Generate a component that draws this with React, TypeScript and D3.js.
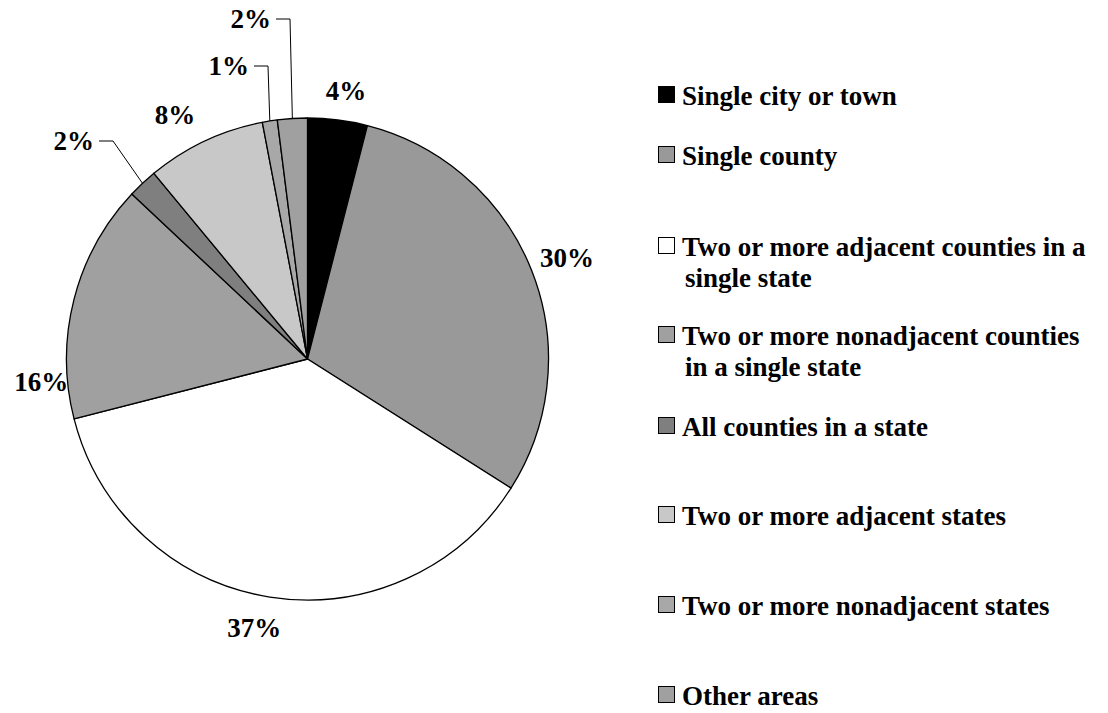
import React from "react";
import * as d3 from "d3";

const categories: string[] = [
  "Single city or town",
  "Single county",
  "Two or more adjacent counties in a single state",
  "Two or more nonadjacent counties in a single state",
  "All counties in a state",
  "Two or more adjacent states",
  "Two or more nonadjacent states",
  "Other areas",
];
const values: number[] = [4, 30, 37, 16, 2, 8, 1, 2];
const legendLines: string[][] = [
  ["Single city or town"],
  ["Single county"],
  ["Two or more adjacent counties in a", "single state"],
  ["Two or more nonadjacent counties", "in a single state"],
  ["All counties in a state"],
  ["Two or more adjacent states"],
  ["Two or more nonadjacent states"],
  ["Other areas"],
];
const fills: string[] = ["#000000", "#999999", "#ffffff", "#a0a0a0", "#7f7f7f", "#c8c8c8", "#a8a8a8", "#a0a0a0"];

// layout (not data)
const W = 1108, H = 713;
const CX = 307.5, CY = 359, R = 241;
const FONT = "'Liberation Serif', 'Times New Roman', serif";
const FS = 27;
const labelMode: string[] = ["radial", "radial", "radial", "radial", "callout", "radial", "callout", "callout"];
const labelNudge: [number, number][] = [[4, 5], [3, 0], [-10, -4], [1, 91], [0, 0], [-15, 5], [0, 0], [0, 0]];
const calloutElbow: [number, number][] = [[0, 0], [0, 0], [0, 0], [0, 0], [-194.5, -218], [0, 0], [-39.5, -293], [-17.5, -340]];
const legendBaselines: number[] = [105, 165, 256, 345, 436, 525, 615, 705];
const LINE_H = 31;

export default function App() {
  const pie = d3.pie<number>().sort(null).value((d) => d);
  const arcs = pie(values);
  const arcGen = d3.arc<d3.PieArcDatum<number>>().innerRadius(0).outerRadius(R);

  const polar = (a: number, r: number): [number, number] => [Math.sin(a) * r, -Math.cos(a) * r];

  return (
    <svg width={W} height={H} style={{ position: "absolute", left: 0, top: 0, background: "#fff" }}
      fontFamily={FONT} fontWeight="bold" fontSize={FS}>
      <rect x={0} y={0} width={W} height={H} fill="#fff" />
      <g transform={`translate(${CX},${CY})`}>
        {arcs.map((a, i) => (
          <path key={i} d={arcGen(a) || ""} fill={fills[i]} stroke="#000" strokeWidth={1.3} strokeLinejoin="round" />
        ))}
        {arcs.map((a, i) => {
          const mid = (a.startAngle + a.endAngle) / 2;
          const label = `${values[i]}%`;
          if (labelMode[i] === "radial") {
            const [x, y] = polar(mid, R + 35);
            return (
              <text key={"l" + i} x={x + labelNudge[i][0]} y={y + labelNudge[i][1]} textAnchor="middle" dy="0.35em" fill="#000">
                {label}
              </text>
            );
          }
          const [px, py] = polar(mid, R);
          const [ex, ey] = calloutElbow[i];
          const hx = ex - 14;
          return (
            <g key={"l" + i}>
              <polyline points={`${px},${py} ${ex},${ey} ${hx},${ey}`} fill="none" stroke="#000" strokeWidth={1} />
              <text x={hx - 5} y={ey} textAnchor="end" dy="0.35em" fill="#000">{label}</text>
            </g>
          );
        })}
      </g>
      <g>
        {categories.map((c, i) => {
          const b = legendBaselines[i];
          return (
            <g key={"lg" + i}>
              <rect x={658.5} y={b - 18.5} width={16} height={16} fill={fills[i]} stroke="#000" strokeWidth={1} />
              <text x={682} y={b} fill="#000">
                {legendLines[i].map((ln, j) => (
                  <tspan key={j} x={j === 0 ? 682 : 685} y={b + j * LINE_H}>{ln}</tspan>
                ))}
              </text>
            </g>
          );
        })}
      </g>
    </svg>
  );
}
